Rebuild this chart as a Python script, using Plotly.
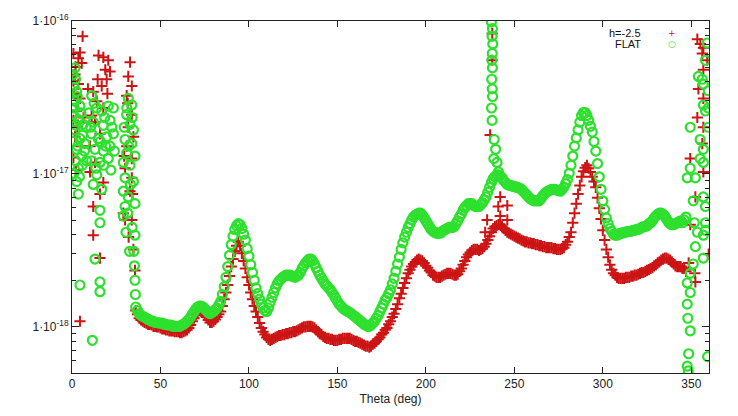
import plotly.graph_objects as go

# Scattering cross-section vs. angle, two models, 1-degree sampling
UNIT = 1e-18
THETA_START = 36

# FLAT model, smooth part (theta = 36 .. 347 deg), in units of 1e-18
flat_main = [
    1.35, 1.28, 1.22, 1.19, 1.17, 1.16, 1.14, 1.12, 1.11, 1.09,
    1.09, 1.07, 1.07, 1.06, 1.06, 1.06, 1.04, 1.04, 1.03, 1.03,
    1.03, 1.01, 1.01, 1.01, 1.01, 1.01, 1.03, 1.04, 1.06, 1.09,
    1.12, 1.16, 1.21, 1.26, 1.31, 1.35, 1.37, 1.37, 1.35, 1.31,
    1.28, 1.24, 1.22, 1.24, 1.26, 1.30, 1.33, 1.39, 1.47, 1.63,
    1.83, 2.11, 2.48, 2.94, 3.45, 3.92, 4.34, 4.59, 4.73, 4.66,
    4.40, 4.04, 3.70, 3.25, 2.90, 2.55, 2.27, 2.02, 1.80, 1.65,
    1.52, 1.41, 1.33, 1.28, 1.26, 1.33, 1.45, 1.56, 1.68, 1.80,
    1.91, 2.00, 2.05, 2.11, 2.15, 2.18, 2.18, 2.18, 2.15, 2.15,
    2.11, 2.15, 2.18, 2.27, 2.41, 2.51, 2.62, 2.70, 2.78, 2.78,
    2.70, 2.58, 2.44, 2.31, 2.18, 2.08, 2.00, 1.91, 1.86, 1.80,
    1.75, 1.68, 1.61, 1.54, 1.47, 1.41, 1.37, 1.33, 1.30, 1.28,
    1.26, 1.24, 1.22, 1.19, 1.17, 1.14, 1.12, 1.09, 1.07, 1.04,
    1.03, 1.01, 1.01, 1.03, 1.06, 1.09, 1.14, 1.19, 1.26, 1.33,
    1.41, 1.50, 1.56, 1.65, 1.75, 1.91, 2.08, 2.31, 2.58, 2.86,
    3.21, 3.55, 3.87, 4.16, 4.47, 4.73, 5.01, 5.23, 5.38, 5.46,
    5.54, 5.54, 5.38, 5.16, 4.94, 4.73, 4.53, 4.34, 4.22, 4.16,
    4.10, 4.10, 4.10, 4.16, 4.28, 4.34, 4.40, 4.47, 4.47, 4.47,
    4.53, 4.73, 4.94, 5.23, 5.46, 5.79, 6.04, 6.22, 6.40, 6.40,
    6.40, 6.22, 6.13, 6.13, 6.13, 6.31, 6.49, 6.78, 7.08, 7.61,
    8.18, 8.79, 9.31, 9.58, 9.86, 9.86, 9.72, 9.44, 9.05, 8.79,
    8.54, 8.42, 8.42, 8.30, 8.30, 8.18, 8.18, 8.06, 7.94, 7.72,
    7.50, 7.28, 7.08, 6.88, 6.78, 6.68, 6.68, 6.68, 6.68, 6.88,
    7.18, 7.39, 7.61, 7.72, 7.83, 7.94, 7.94, 7.94, 7.83, 7.83,
    7.72, 7.94, 8.18, 8.66, 9.18, 10.1, 11.4, 13.1, 15.2, 17.2,
    19.4, 21.8, 24.1, 25.2, 25.2, 24.1, 22.4, 20.5, 18.8, 16.3,
    14.1, 11.7, 9.58, 7.94, 6.68, 5.87, 5.16, 4.73, 4.40, 4.22,
    4.04, 3.98, 3.98, 4.04, 4.10, 4.10, 4.16, 4.16, 4.22, 4.22,
    4.22, 4.28, 4.28, 4.34, 4.34, 4.40, 4.47, 4.53, 4.53, 4.59,
    4.73, 4.80, 4.94, 5.16, 5.31, 5.46, 5.54, 5.54, 5.46, 5.31,
    5.08, 4.87, 4.73, 4.66, 4.66, 4.73, 4.80, 4.87, 4.94, 4.80,
    5.01, 5.23,
]

# h=-2.5 model, smooth part (theta = 36 .. 347 deg), in units of 1e-18
hm_main = [
    1.28, 1.21, 1.14, 1.11, 1.09, 1.07, 1.06, 1.04, 1.04, 1.03,
    1.01, 1.01, 1.00, 1.00, 0.986, 0.972, 0.972, 0.958, 0.958, 0.944,
    0.944, 0.944, 0.931, 0.931, 0.931, 0.918, 0.918, 0.931, 0.944, 0.958,
    0.986, 1.03, 1.09, 1.14, 1.21, 1.24, 1.28, 1.26, 1.24, 1.21,
    1.16, 1.11, 1.07, 1.07, 1.09, 1.12, 1.16, 1.21, 1.26, 1.37,
    1.52, 1.68, 1.88, 2.15, 2.48, 2.78, 3.12, 3.40, 3.60, 3.40,
    3.03, 2.70, 2.41, 2.11, 1.88, 1.68, 1.52, 1.37, 1.26, 1.16,
    1.06, 0.986, 0.931, 0.892, 0.854, 0.830, 0.818, 0.830, 0.842, 0.854,
    0.866, 0.879, 0.879, 0.892, 0.892, 0.905, 0.905, 0.918, 0.918, 0.931,
    0.931, 0.944, 0.958, 0.972, 0.986, 1.00, 1.00, 1.01, 1.01, 1.01,
    1.00, 0.986, 0.958, 0.931, 0.905, 0.892, 0.866, 0.854, 0.842, 0.842,
    0.830, 0.830, 0.818, 0.818, 0.818, 0.830, 0.830, 0.842, 0.842, 0.842,
    0.842, 0.842, 0.830, 0.818, 0.806, 0.806, 0.794, 0.783, 0.772, 0.761,
    0.750, 0.750, 0.739, 0.750, 0.772, 0.783, 0.806, 0.830, 0.854, 0.892,
    0.918, 0.958, 0.986, 1.04, 1.09, 1.16, 1.22, 1.31, 1.41, 1.54,
    1.65, 1.80, 1.94, 2.08, 2.24, 2.37, 2.48, 2.58, 2.66, 2.74,
    2.78, 2.74, 2.70, 2.62, 2.51, 2.44, 2.34, 2.27, 2.18, 2.15,
    2.11, 2.11, 2.11, 2.15, 2.18, 2.21, 2.24, 2.24, 2.24, 2.21,
    2.18, 2.18, 2.21, 2.31, 2.41, 2.55, 2.70, 2.86, 2.98, 3.07,
    3.16, 3.21, 3.21, 3.21, 3.16, 3.21, 3.25, 3.35, 3.50, 3.70,
    3.92, 4.16, 4.40, 4.53, 4.59, 4.66, 4.66, 4.53, 4.40, 4.28,
    4.16, 4.10, 4.04, 3.98, 3.92, 3.87, 3.81, 3.76, 3.70, 3.65,
    3.60, 3.60, 3.55, 3.55, 3.50, 3.50, 3.45, 3.45, 3.40, 3.40,
    3.35, 3.35, 3.30, 3.30, 3.30, 3.30, 3.25, 3.25, 3.21, 3.21,
    3.21, 3.25, 3.30, 3.45, 3.60, 3.87, 4.16, 4.80, 5.54, 6.40,
    7.39, 8.42, 9.58, 10.4, 11.0, 11.4, 10.9, 10.3, 9.58, 8.92,
    8.18, 6.98, 5.96, 5.08, 4.28, 3.70, 3.21, 2.86, 2.55, 2.37,
    2.24, 2.18, 2.11, 2.08, 2.08, 2.08, 2.08, 2.11, 2.11, 2.11,
    2.15, 2.15, 2.18, 2.18, 2.21, 2.24, 2.27, 2.27, 2.31, 2.34,
    2.37, 2.41, 2.44, 2.51, 2.55, 2.62, 2.66, 2.74, 2.78, 2.82,
    2.82, 2.78, 2.74, 2.66, 2.58, 2.51, 2.48, 2.48, 2.48, 2.41,
    2.41, 2.31,
]

# Unconverged / noisy samples (forward, backward and resonance regions)
flat_extra_theta = [
    1.7, 0.8, 2.6, 1.7, 4.5, 0.8, 3.6, 6.4, 1.7, 4.5, 7.3, 2.6, 5.5, 8.3,
    3.6, 2.6, 3.6, 4.5, 11.5, 11.1, 14.0, 16.8, 20.5, 23.4, 12.0, 17.7,
    21.5, 11.1, 14.9, 19.6, 23.4, 13.0, 17.7, 21.5, 11.1, 15.8, 20.5,
    14.0, 12.0, 16.8, 15.8, 15.8, 13.0, 15.8, 15.8,
    0.5, 2.0, 3.0, 5.0, 1.2, 2.2, 6.0, 0.7, 3.2, 5.8, 1.0, 4.2, 7.0, 8.0,
    2.0, 9.5, 10.5, 12.5, 18.5, 22.5, 19.0, 24.0, 16.0, 13.5, 18.0, 22.0,
    31.8, 33.8, 30.9, 32.8, 34.7, 30.0, 33.8, 30.9, 35.6, 29.0, 32.8,
    30.0, 34.7, 29.0, 31.8, 30.0, 35.6, 29.0, 35.6, 35.0, 35.3, 35.6, 35.8,
    31.0, 32.0, 34.0, 29.5, 33.0, 31.5, 34.0, 30.5, 32.5,
    237.6, 237.4, 237.8, 237.5, 237.3, 237.6, 237.2, 237.5, 237.7, 237.1,
    237.4, 238.6, 239.4, 238.4, 240.2, 241.0, 237.0,
    359.0, 358.0, 354.0, 356.2, 356.8, 359.6, 356.8, 359.6, 358.0, 359.6,
    349.4, 355.0, 356.8, 355.0, 356.8, 349.4, 347.7, 352.3, 351.1, 356.8,
    358.0, 351.7, 358.0, 356.8, 358.0, 353.4, 356.8, 351.1, 349.4, 349.4,
    347.7, 347.7, 348.0, 349.4, 348.5, 347.7, 348.3, 359.2, 352.3,
]
flat_extra = [
    49.4, 37.6, 34.5, 29.9, 27.8, 24.4, 22.7, 21.1, 19.4, 17.0, 15.8, 14.5,
    13.1, 12.2, 10.9, 8.91, 7.39, 1.88, 0.818, 32.5, 27.0, 25.8, 27.8, 27.0,
    21.8, 20.8, 22.4, 18.3, 17.0, 17.5, 18.3, 14.5, 14.1, 15.2, 12.2, 11.9,
    12.6, 9.86, 8.54, 7.94, 5.79, 4.80, 2.78, 1.97, 1.70,
    44.7, 41.6, 32.1, 25.1, 27.0, 20.8, 18.0, 16.3, 15.2, 11.4, 10.1, 9.58,
    14.1, 20.2, 12.2, 25.1, 20.2, 29.0, 23.4, 20.2, 15.2, 14.1, 16.3, 10.9,
    11.4, 10.6,
    31.2, 28.2, 24.4, 21.1, 19.4, 16.8, 15.8, 13.7, 13.1, 11.9, 11.4,
    9.44, 8.91, 7.72, 7.08, 6.13, 6.40, 5.31, 3.98, 3.12, 2.51, 2.02, 1.63,
    27.0, 15.2, 23.4, 20.2, 8.54, 5.54, 4.47, 4.16, 3.12,
    89.1, 79.4, 70.8, 61.3, 55.4, 49.4, 41.6, 36.0, 32.1, 27.0,
    22.4, 16.8, 14.5, 12.6, 11.9, 10.3, 98.6,
    71.8, 55.4, 43.4, 41.6, 38.7, 35.0, 28.2, 27.0, 25.8, 20.2,
    20.2, 16.8, 14.5, 12.6, 11.9, 10.9, 9.44, 9.44, 6.68, 7.08,
    6.13, 4.80, 4.80, 3.98, 4.28, 4.16, 2.82, 2.58, 2.24, 1.68,
    1.94, 1.41, 1.14, 0.944, 0.668, 0.554, 0.516, 0.640, 3.35,
]

hm_extra_theta = [
    6.0, 0.8, 4.5, 3.6, 5.5, 1.7, 0.8, 3.6, 4.5, 2.6, 0.8, 1.7, 0.8, 2.0,
    17.7, 20.5, 21.5, 19.6, 16.8, 12.0, 14.0, 17.7, 11.1, 13.0, 15.8, 10.2,
    13.0, 17.7, 10.2, 15.8, 12.0, 12.0, 15.8, 4.5, 15.0,
    1.2, 3.0, 5.0, 2.2, 6.5, 9.0, 18.8, 20.0, 14.5,
    32.8, 31.8, 33.8, 30.9, 33.8, 31.8, 34.7, 30.9, 33.8, 30.0, 33.8,
    32.8, 29.0, 30.0, 33.8, 34.7, 35.6, 31.5, 34.2, 29.5, 32.0,
    236.3, 237.5, 237.5, 242.0, 240.9, 246.0, 242.0, 246.0, 234.6, 233.5,
    353.4, 355.1, 356.8, 356.2, 359.0, 356.8, 354.0, 356.8, 353.4, 356.8,
    356.2, 349.4, 356.8, 352.3, 359.8, 352.3, 352.0, 349.4, 348.5,
]
hm_extra = [
    79.4, 61.3, 62.2, 57.0, 53.1, 44.7, 40.4, 38.7, 31.2, 25.8, 22.4, 17.5,
    12.8, 50.1,
    57.9, 55.4, 46.7, 41.6, 37.6, 34.5, 29.9, 27.0, 24.1, 21.8, 18.3, 15.2,
    11.9, 8.79, 10.3, 7.39, 6.13, 3.98, 2.82, 1.09, 59.6,
    33.5, 20.2, 15.2, 10.6, 23.4, 36.0, 48.0, 33.5, 41.6,
    53.8, 43.4, 37.6, 32.5, 24.4, 20.2, 17.5, 15.2, 12.6, 10.9, 9.44,
    7.72, 5.54, 5.01, 5.01, 3.21, 2.34, 29.0, 7.39, 13.1, 3.87,
    18.0, 55.4, 82.9, 7.08, 6.13, 6.22, 5.31, 5.01, 5.01, 4.16,
    76.1, 70.8, 66.8, 61.3, 55.4, 48.0, 36.0, 31.2, 23.4, 20.2,
    15.8, 12.6, 10.3, 7.08, 2.99, 1.97, 2.24, 4.66, 2.62,
]

x_ticks = [0, 50, 100, 150, 200, 250, 300, 350]
y_ticks = [1e-18, 1e-17, 1e-16]
y_tick_text = ["1·10<sup>-18</sup>", "1·10<sup>-17</sup>", "1·10<sup>-16</sup>"]
y_minor = [m * 10.0 ** e for e in (-19, -18, -17) for m in range(2, 10)]

RED = "#cc1414"
GREEN = "#2ee02e"

series = [
    ("h=-2.5", hm_main, hm_extra_theta, hm_extra, RED, "cross-thin-open", 8, 2.0),
    ("FLAT", flat_main, flat_extra_theta, flat_extra, GREEN, "circle-open", 9, 2.2),
]

FONT = "Liberation Sans, Arial, Helvetica, sans-serif"

fig = go.Figure()
for name, main, ex_t, ex_v, color, symbol, size, lw in series:
    theta = list(range(THETA_START, THETA_START + len(main))) + ex_t
    vals = [v * UNIT for v in main + ex_v]
    fig.add_trace(go.Scatter(
        x=theta, y=vals, mode="markers", name=name, showlegend=False,
        marker=dict(symbol=symbol, size=size, color=color,
                    line=dict(color=color, width=lw)),
    ))

# Key in the upper-right corner: label followed by its sample symbol
key_rows = [("h=-2.5", "+", RED, 0.966, 9), ("FLAT", "○", GREEN, 0.935, 9)]
for label, glyph, color, ypos, gsize in key_rows:
    fig.add_annotation(xref="paper", yref="paper", x=0.897, y=ypos,
                       text=label, showarrow=False, xanchor="right",
                       yanchor="middle",
                       font=dict(family=FONT, size=11, color="#111"))
    fig.add_annotation(xref="paper", yref="paper", x=0.942, y=ypos,
                       text=glyph, showarrow=False, xanchor="center",
                       yanchor="middle",
                       font=dict(family="DejaVu Sans", size=gsize, color=color))

axis_common = dict(
    showline=True, linecolor="#222", linewidth=1, mirror="allticks",
    ticks="inside", tickcolor="#222", showgrid=False, zeroline=False,
    tickfont=dict(family=FONT, size=12, color="#222"),
)

fig.update_layout(
    width=738, height=416,
    margin=dict(l=72, r=29, t=13, b=38),
    paper_bgcolor="white", plot_bgcolor="white",
    font=dict(family=FONT, color="#222"),
    xaxis=dict(
        range=[0, 360], tickmode="array", tickvals=x_ticks, ticklen=6,
        title=dict(text="Theta (deg)", font=dict(family=FONT, size=12),
                   standoff=4),
        **axis_common,
    ),
    yaxis=dict(
        type="log", range=[-18.301, -16.0], tickmode="array",
        tickvals=y_ticks, ticktext=y_tick_text, ticklen=7,
        minor=dict(ticks="inside", ticklen=4, tickcolor="#222",
                   tickvals=y_minor, showgrid=False),
        **axis_common,
    ),
)

fig.write_html("out.html")
